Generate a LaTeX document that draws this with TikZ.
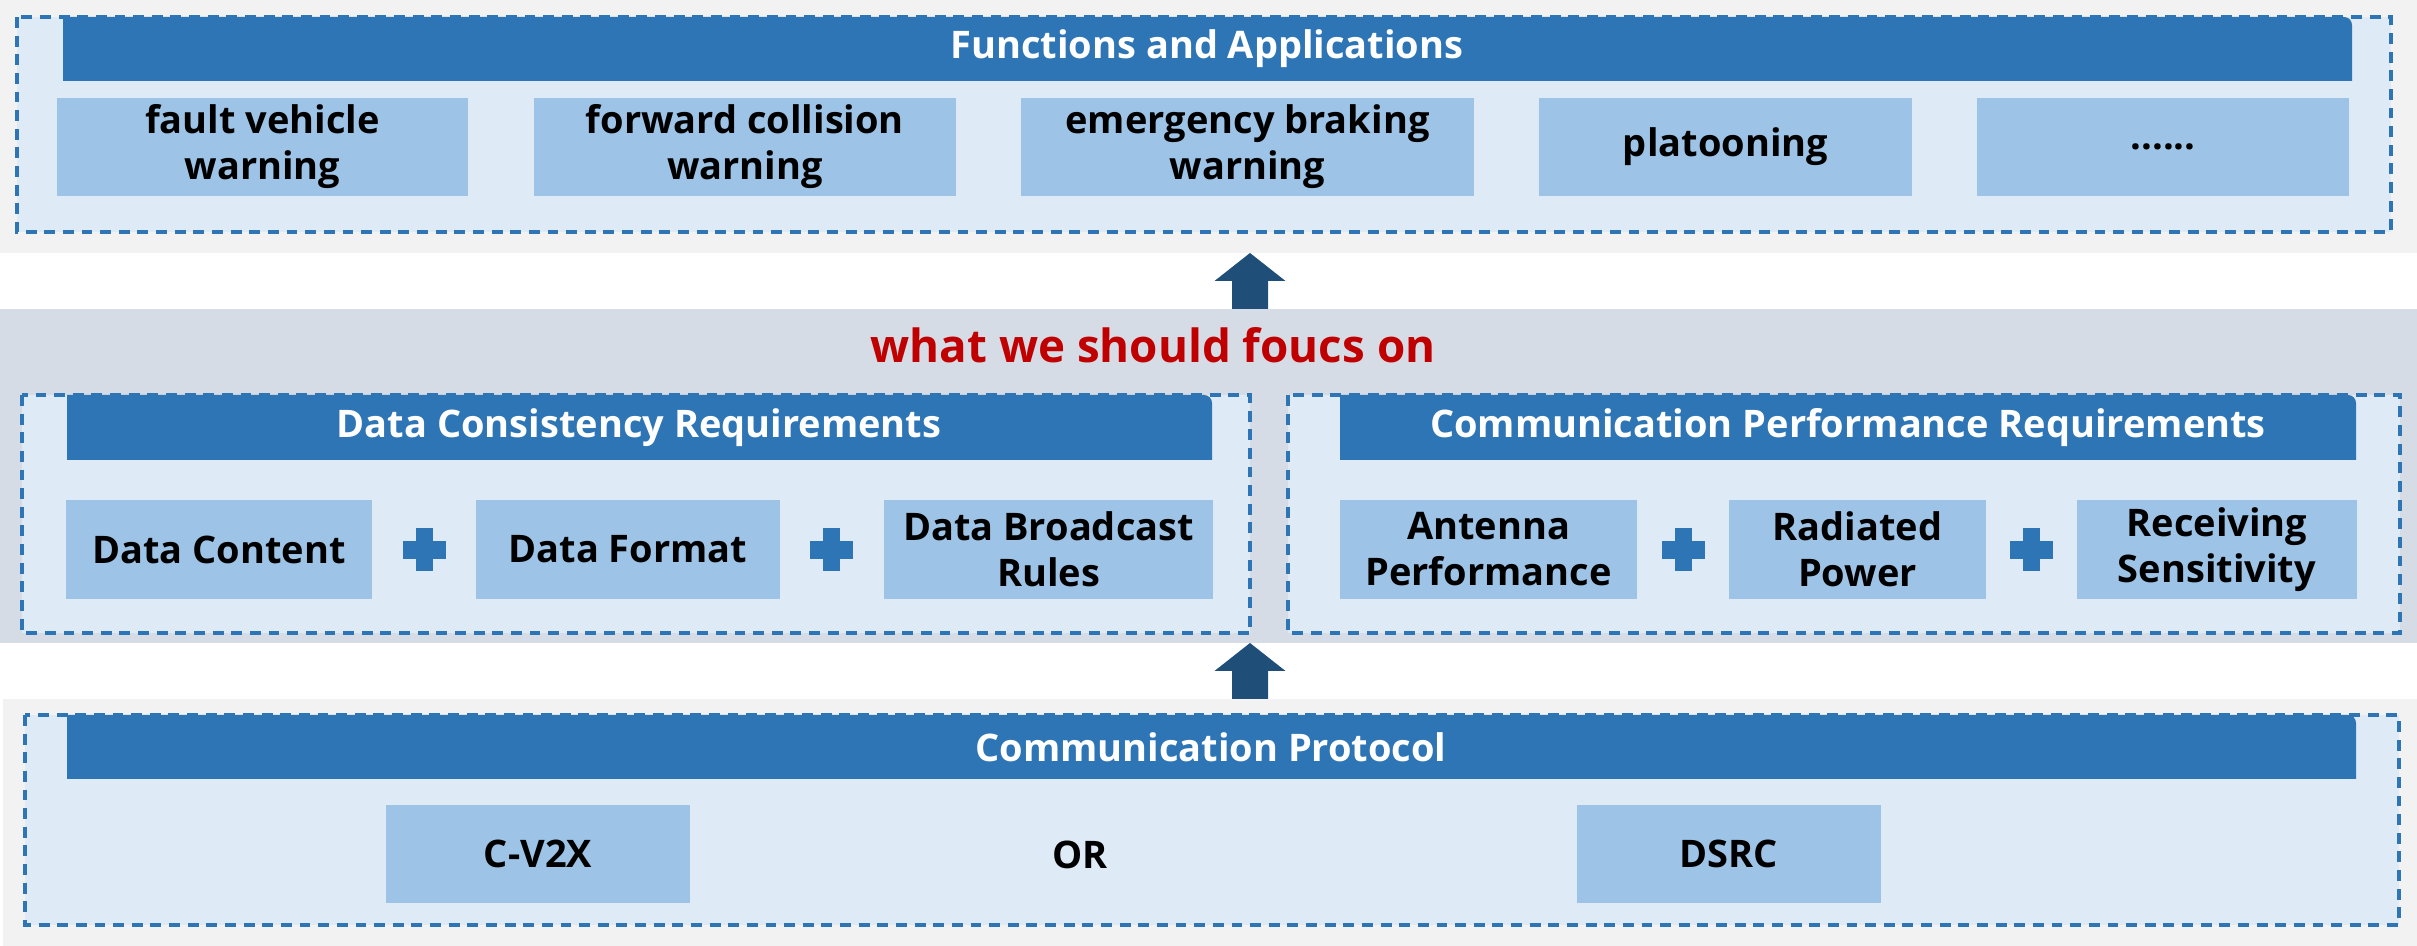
\documentclass[tikz,border=0pt]{standalone}
\usepackage{fontspec}
\setmainfont{Open Sans}
\usetikzlibrary{positioning}
\definecolor{bggray}{HTML}{F2F2F2}
\definecolor{bandgray}{HTML}{D6DCE5}
\definecolor{panelfill}{HTML}{DEEAF6}
\definecolor{lineblue}{HTML}{2E75B6}
\definecolor{itemblue}{HTML}{9DC3E6}
\definecolor{arrowblue}{HTML}{1F4E79}
\definecolor{titlered}{HTML}{C00000}
\newcommand{\barfill}[4]{\fill[lineblue] (#1,#4) -- (#1,#2) -- ({#3-8},#2) arc[start angle=270,end angle=360,radius=8] -- (#3,#4) -- cycle;}
\tikzset{
  panel/.style={fill=panelfill,draw=lineblue,line width=1pt,dash pattern=on 3.1pt off 2.2pt},
  bartext/.style={text=white,font=\fontsize{10.8}{13.1}\selectfont\bfseries,inner sep=0pt},
  item/.style={fill=itemblue,minimum height=0.98cm,inner sep=0pt,align=center,
    font=\fontsize{10.8}{13.1}\selectfont\bfseries},
  plain/.style={font=\fontsize{10.8}{13.1}\selectfont\bfseries,inner sep=0pt}
}
\begin{document}
\begin{tikzpicture}[x=0.01cm,y=-0.01cm]
\useasboundingbox (0,0) rectangle (2417,946);
\fill[bggray] (0,0) rectangle (2417,253);
\fill[bandgray] (0,309) rectangle (2417,643);
\fill[bggray] (3,699) rectangle (2417,946);
\foreach \ty in {253,643}
\fill[arrowblue] (1250,\ty) -- (1285.5,\ty+28) -- (1268,\ty+28) -- (1268,\ty+56)
  -- (1232,\ty+56) -- (1232,\ty+28) -- (1214.5,\ty+28) -- cycle;
% top panel
\fill[panelfill] (17,17) rectangle (2391,232);
\barfill{63}{17}{2352}{81}
\draw[panel,fill=none] (17,17) rectangle (2391,232);
\node[bartext] (funcs) at (1207,49) {Functions and Applications};
\node[item,minimum width=4.11cm] (fault) at (262.5,147) {fault vehicle\\warning};
\node[item,minimum width=4.22cm] (forward) at (745,147) {forward collision\\warning};
\node[item,minimum width=4.53cm] (braking) at (1247.5,147) {emergency braking\\warning};
\node[item,minimum width=3.73cm] (platoon) at (1725.5,147) {platooning};
\node[item,minimum width=3.72cm] (more) at (2163,147) {......};
% middle band
\node[font=\fontsize{13}{15}\selectfont\bfseries,text=titlered,inner sep=0pt] (focus) at (1153,345) {what we should foucs on};
\fill[panelfill] (22,395) rectangle (1250,633);
\barfill{67}{395}{1212}{460}
\draw[panel,fill=none] (22,395) rectangle (1250,633);
\node[bartext] (datareq) at (639,428) {Data Consistency Requirements};
\node[item,minimum width=3.06cm] (content) at (219,549.5) {Data Content};
\node[item,minimum width=3.04cm] (format) at (628,549.5) {Data Format};
\node[item,minimum width=3.29cm] (rules) at (1048.5,549.5) {Data Broadcast\\Rules};
\fill[panelfill] (1288,395) rectangle (2400,633);
\barfill{1340}{395}{2356}{460}
\draw[panel,fill=none] (1288,395) rectangle (2400,633);
\node[bartext] (commreq) at (1848,428) {Communication Performance Requirements};
\node[item,minimum width=2.97cm] (antenna) at (1488.5,549.5) {Antenna\\Performance};
\node[item,minimum width=2.57cm] (power) at (1857.5,549.5) {Radiated\\Power};
\node[item,minimum width=2.80cm] (sensit) at (2217,549.5) {Receiving\\Sensitivity};
\foreach \px in {424,831,1683,2031}{
\fill[lineblue] (\px-21.5,541) rectangle (\px+21.5,559);
\fill[lineblue] (\px-8.5,528) rectangle (\px+8.5,571);
}
% bottom panel
\fill[panelfill] (25,715) rectangle (2399,925);
\barfill{67}{715}{2356}{779}
\draw[panel,fill=none] (25,715) rectangle (2399,925);
\node[bartext] (protocol) at (1211,747) {Communication Protocol};
\node[item,minimum width=3.04cm] (cv2x) at (538,854) {C-V2X};
\node[plain] (or) at (1080,855) {OR};
\node[item,minimum width=3.04cm] (dsrc) at (1729,854) {DSRC};
\end{tikzpicture}
\end{document}
